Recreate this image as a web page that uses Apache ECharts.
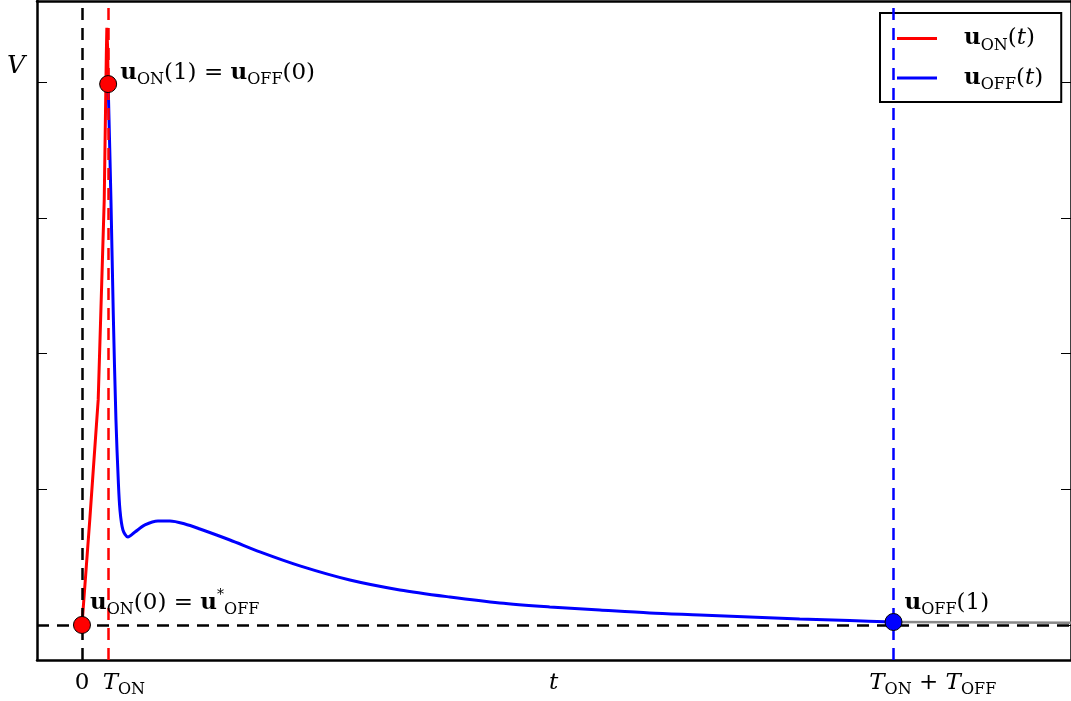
<!DOCTYPE html>
<html>
<head>
<meta charset="utf-8">
<script src="https://cdn.jsdelivr.net/npm/echarts@6/dist/echarts.min.js"></script>
<style>
  body { margin: 0; background: #fff; }
  #chart { width: 1071px; height: 701px; }
</style>
</head>
<body>
<div id="chart"></div>
<script>
// u_ON(t): fast rise during the ON phase
var onT = [0, 0.3, 0.62, 0.85, 0.93, 0.95, 0.98, 1.0];
var onV = [0, 0.78, 1.66, 3.13, 4.2, 4.4, 4.25, 3.985];

// u_OFF(t): relaxation during the OFF phase
var offT = [1.0, 1.107, 1.195, 1.298, 1.386, 1.451, 1.565, 1.756, 2.024, 2.405, 2.902, 3.36, 3.933,
  4.506, 5.651, 6.796, 8.324, 10.233, 12.142, 14.051, 15.96, 17.869, 19.778, 21.688, 23.597,
  25.506, 27.415, 29.324, 31.0];
var offV = [3.985, 3.131, 2.298, 1.51, 1.068, 0.847, 0.7, 0.648, 0.685, 0.737, 0.766, 0.766, 0.744,
  0.707, 0.626, 0.538, 0.435, 0.331, 0.258, 0.206, 0.162, 0.133, 0.11, 0.088, 0.074,
  0.059, 0.044, 0.033, 0.022];

// next cycle (grey) after T_ON + T_OFF
var nextT = [31.0, 38.0];
var nextV = [0.022, 0.017];

var tOn = 1;
var tOnOff = 31;

var xTickValues = [0, 1.6, 18.02, 32.5];
var xTickTexts = ['{n|0}', '{i|T}{s|ON}', '{i|t}', '{i|T}{s|ON}{n| + }{i|T}{s|OFF}'];
var yTickValues = [0, 1, 2, 3, 4];

function pairs(xs, ys) {
  return xs.map(function (x, i) { return [x, ys[i]]; });
}

var font = "'DejaVu Serif', 'Liberation Serif', serif";
var rich = {
  n: { fontFamily: font, fontSize: 23, color: "#000", lineHeight: 30 },
  b: { fontFamily: font, fontSize: 23, fontWeight: "bold", color: "#000", lineHeight: 30 },
  i: { fontFamily: font, fontSize: 23, fontStyle: "italic", color: "#000", lineHeight: 30 },
  s: { fontFamily: font, fontSize: 16, color: "#000", lineHeight: 15, verticalAlign: "bottom" },
  p: { fontFamily: font, fontSize: 14, color: "#000", lineHeight: 10, verticalAlign: "top" },
};

var dash = [12, 8];

var myChart = echarts.init(document.getElementById("chart"));
myChart.setOption({
  animation: false,
  grid: { left: 37, top: 1, width: 1037, height: 659 },
  graphic: [
    {
      type: "text",
      left: 7,
      top: 54,
      style: { text: "V", font: "italic 25px " + font, fill: "#000" },
    },
  ],
  legend: {
    left: 880,
    top: 13,
    orient: "vertical",
    backgroundColor: "#fff",
    borderColor: "#000",
    borderWidth: 2,
    borderRadius: 0,
    padding: [14, 18, 9, 17],
    itemGap: 13,
    itemWidth: 40,
    itemHeight: 3,
    icon: "rect",
    data: ["uON", "uOFF"],
    formatter: function (name) {
      return name === "uON"
        ? "{b|u}{s|ON}{n|(}{i|t}{n|)}"
        : "{b|u}{s|OFF}{n|(}{i|t}{n|)}";
    },
    textStyle: { padding: [0, 0, 0, 22], rich: rich },
  },
  xAxis: [
    {
      type: "value",
      min: -1.718,
      max: 37.78,
      axisLine: { onZero: false, lineStyle: { color: "#000", width: 2.5 } },
      axisTick: { show: false },
      splitLine: { show: false },
      axisLabel: {
        customValues: xTickValues,
        margin: 8,
        formatter: function (v) {
          var k = xTickValues.indexOf(v);
          return k >= 0 ? xTickTexts[k] : "";
        },
        rich: rich,
      },
    },
    {
      type: "value",
      position: "top",
      min: -1.718,
      max: 37.78,
      axisLine: { onZero: false, lineStyle: { color: "#000", width: 2.5 } },
      axisTick: { show: false },
      axisLabel: { show: false },
      splitLine: { show: false },
    },
  ],
  yAxis: [
    {
      type: "value",
      min: -0.258,
      max: 4.597,
      axisLine: { onZero: false, lineStyle: { color: "#000", width: 2.5 } },
      axisTick: { inside: true, length: 10, customValues: yTickValues, lineStyle: { color: "#000" } },
      axisLabel: { show: false },
      splitLine: { show: false },
    },
    {
      type: "value",
      position: "right",
      min: -0.258,
      max: 4.597,
      axisLine: { onZero: false, lineStyle: { color: "#000", width: 2.5 } },
      axisTick: { inside: true, length: 10, customValues: yTickValues, lineStyle: { color: "#000" } },
      axisLabel: { show: false },
      splitLine: { show: false },
    },
  ],
  series: [
    {
      name: "next",
      type: "line",
      data: pairs(nextT, nextV),
      showSymbol: false,
      lineStyle: { color: "#888", width: 2.5 },
      itemStyle: { color: "#888" },
      z: 2,
      markLine: {
        silent: true,
        symbol: "none",
        label: { show: false },
        data: [
          { xAxis: 0, lineStyle: { color: "#000", type: dash, width: 2.5 } },
          { xAxis: tOn, lineStyle: { color: "#f00", type: dash, width: 2.5 } },
          { xAxis: tOnOff, lineStyle: { color: "#00f", type: dash, width: 2.5 } },
          { yAxis: 0, lineStyle: { color: "#000", type: dash, width: 2.5 } },
        ],
      },
    },
    {
      name: "uON",
      type: "line",
      data: pairs(onT, onV),
      showSymbol: false,
      lineStyle: { color: "#f00", width: 3 },
      itemStyle: { color: "#f00" },
      z: 3,
    },
    {
      name: "uOFF",
      type: "line",
      data: pairs(offT, offV),
      smooth: 0.3,
      showSymbol: false,
      lineStyle: { color: "#00f", width: 3 },
      itemStyle: { color: "#00f" },
      z: 3,
    },
    {
      name: "dotsOn",
      type: "scatter",
      symbolSize: 17,
      itemStyle: { color: "#f00", borderColor: "#000", borderWidth: 1, opacity: 1 },
      z: 5,
      data: [
        {
          value: [onT[0], onV[0]],
          label: {
            show: true,
            position: "right",
            distance: 0,
            offset: [-1, -22],
            formatter: "{b|u}{s|ON}{n|(0) = }{b|u}{p|*}{s|OFF}",
            rich: rich,
          },
        },
        {
          value: [onT[onT.length - 1], onV[onV.length - 1]],
          label: {
            show: true,
            position: "right",
            distance: 3,
            offset: [0, -11],
            formatter: "{b|u}{s|ON}{n|(1) = }{b|u}{s|OFF}{n|(0)}",
            rich: rich,
          },
        },
      ],
    },
    {
      name: "dotsOff",
      type: "scatter",
      symbolSize: 17,
      itemStyle: { color: "#00f", borderColor: "#000", borderWidth: 1, opacity: 1 },
      z: 5,
      data: [
        {
          value: [offT[offT.length - 1], offV[offV.length - 1]],
          label: {
            show: true,
            position: "right",
            distance: 2,
            offset: [0, -19],
            formatter: "{b|u}{s|OFF}{n|(1)}",
            rich: rich,
          },
        },
      ],
    },
  ],
});
</script>
</body>
</html>
